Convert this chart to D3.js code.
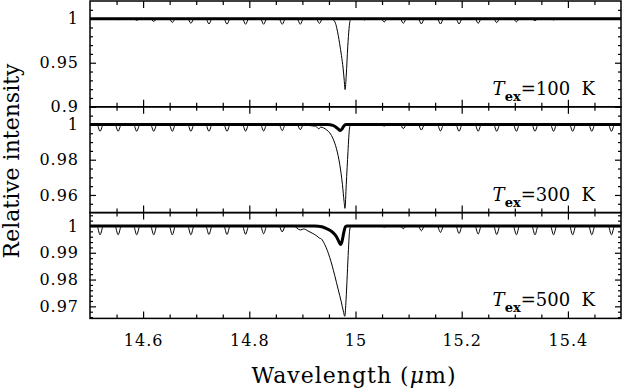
<!DOCTYPE html>
<html>
<head>
<meta charset="utf-8">
<script src="https://cdn.jsdelivr.net/npm/d3@7"></script>
<style>
  body { margin: 0; background: #fff; }
  svg { display: block; font-family: "DejaVu Serif", serif; }
</style>
</head>
<body>
<svg id="chart" width="623" height="390"></svg>
<script>
// ── DATA ─────────────────────────────────────────────────────────────────────
const temps = [100, 300, 500];

const yDomains = [[0.9, 1.02], [0.95, 1.01], [0.9655, 1.005]];
const yMajorTicks = [[0.9, 0.95, 1], [0.96, 0.98, 1], [0.97, 0.98, 0.99, 1]];
const yMinorTicks = [
  [0.91, 0.92, 0.93, 0.94, 0.96, 0.97, 0.98, 0.99, 1.01],
  [0.955, 0.965, 0.97, 0.975, 0.985, 0.99, 0.995, 1.005],
  [0.966, 0.968, 0.972, 0.974, 0.976, 0.978, 0.982, 0.984, 0.986, 0.988,
   0.992, 0.994, 0.996, 0.998, 1.002, 1.004]
];

const xMajorTicks = [14.6, 14.8, 15, 15.2, 15.4];
const xMinorTicks = [14.55, 14.65, 14.7, 14.75, 14.85, 14.9, 14.95, 15.05,
  15.1, 15.15, 15.25, 15.3, 15.35, 15.45];

// R and P branch line centres (µm)
const lineCenters = [14.519, 14.553, 14.588, 14.620, 14.655, 14.690, 14.724,
  14.758, 14.793, 14.827, 14.862, 14.896, 14.932,
  15.017, 15.054, 15.090, 15.124, 15.160, 15.195, 15.231, 15.266, 15.303,
  15.338, 15.373, 15.409, 15.445, 15.482];

// line depths below 1 for each temperature
const depth100 = [0.0007, 0.0012, 0.0018, 0.0032, 0.0043, 0.0053, 0.0060,
  0.0062, 0.0064, 0.0064, 0.0064, 0.0064, 0.0055,
  0.0015, 0.0038, 0.0053, 0.0060, 0.0061, 0.0060, 0.0053, 0.0045, 0.0036,
  0.0023, 0.0015, 0.0008, 0.0004, 0.0003];
const depth300 = [0.0039, 0.0039, 0.0039, 0.0039, 0.0039, 0.0039, 0.0039,
  0.0039, 0.0038, 0.0037, 0.0035, 0.0030, 0.0023,
  0.0002, 0.0009, 0.0024, 0.0032, 0.0037, 0.0039, 0.0039, 0.0039, 0.0039,
  0.0039, 0.0039, 0.0039, 0.0039, 0.0039];
const depth500 = [0.0033, 0.0033, 0.0033, 0.0033, 0.0033, 0.0033, 0.0032,
  0.0032, 0.0031, 0.0029, 0.0022, 0.0015, 0.0012,
  0.0001, 0.0004, 0.0010, 0.0018, 0.0024, 0.0028, 0.0030, 0.0032, 0.0033,
  0.0033, 0.0033, 0.0033, 0.0033, 0.0033];

// Q-branch region of the thin spectrum [wavelength, intensity]
const qThin100 = [[14.950, 1], [14.957, 0.999], [14.9615, 0.996], [14.9645, 0.990],
  [14.9675, 0.981], [14.970, 0.972], [14.9736, 0.958], [14.9766, 0.944],
  [14.9788, 0.930], [14.9803, 0.9195], [14.9826, 0.936], [14.9854, 0.968],
  [14.9879, 0.989], [14.990, 0.998], [14.993, 1]];
const qThin300 = [[14.905, 1], [14.915, 0.9993], [14.925, 0.999], [14.931, 0.9975],
  [14.9345, 0.9985], [14.940, 0.998], [14.946, 0.9968], [14.9516, 0.9952],
  [14.9578, 0.9918], [14.9642, 0.9862], [14.9704, 0.9772], [14.9754, 0.9659],
  [14.9785, 0.9563], [14.9802, 0.9524], [14.9826, 0.9659], [14.9858, 0.9845],
  [14.9888, 0.998], [14.991, 1]];
const qThin500 = [[14.870, 1], [14.8829, 1], [14.8964, 0.9985], [14.9026, 0.9989],
  [14.9101, 0.9982], [14.9196, 0.9972], [14.9271, 0.9963], [14.9318, 0.9955],
  [14.9356, 0.9952], [14.9421, 0.9931], [14.9516, 0.9882], [14.9609, 0.9815],
  [14.9675, 0.9762], [14.9732, 0.9717], [14.977, 0.9683], [14.9798, 0.9663],
  [14.9822, 0.9724], [14.9845, 0.9818], [14.9867, 0.9912], [14.9888, 0.998],
  [14.991, 1]];

// thick (second model) spectrum
const thick100 = [[14.5, 1], [15.5, 1]];
const thick300 = [[14.5, 1], [14.9478, 1], [14.9572, 0.9995], [14.9628, 0.9986],
  [14.9675, 0.9974], [14.9713, 0.9966], [14.9741, 0.9972], [14.977, 0.9986],
  [14.9798, 0.9997], [14.9826, 1], [15.5, 1]];
const thick500 = [[14.5, 1], [14.9233, 1], [14.9365, 0.9997], [14.9453, 0.999],
  [14.9516, 0.9984], [14.9578, 0.9975], [14.9642, 0.996], [14.9691, 0.994],
  [14.9717, 0.9931], [14.9747, 0.9943], [14.9779, 0.9975], [14.9811, 0.9997],
  [14.9841, 1], [15.5, 1]];

const depths = [depth100, depth300, depth500];
const qThins = [qThin100, qThin300, qThin500];
const thicks = [thick100, thick300, thick500];

// ── LAYOUT ───────────────────────────────────────────────────────────────────
const left = 90, right = 621;
const panelTop = [1, 106.8, 212.6];
const panelH = 105.8;
const halfWidth = 0.006;

const svg = d3.select('#chart');

const x = d3.scaleLinear().domain([14.5, 15.5]).range([left, right]);

svg.append('defs').append('clipPath')
  .attr('id', 'plot-clip')
  .append('rect')
    .attr('x', left).attr('y', panelTop[0])
    .attr('width', right - left).attr('height', panelH * 3);

// build thin spectrum: V-shaped lines plus the Q-branch profile
function thinSeries(i) {
  const q = qThins[i];
  const q0 = q[0][0], q1 = q[q.length - 1][0];
  const pts = [[14.5, 1]];
  lineCenters.forEach((c, k) => {
    if (c >= q0 && c <= q1) return;
    pts.push([c - halfWidth, 1], [c, 1 - depths[i][k]], [c + halfWidth, 1]);
  });
  q.forEach(p => pts.push(p));
  pts.push([15.5, 1]);
  return pts.sort((a, b) => a[0] - b[0]);
}

temps.forEach((t, i) => {
  const top = panelTop[i];
  const bottom = top + panelH;
  const y = d3.scaleLinear().domain(yDomains[i]).range([bottom, top]);
  const g = svg.append('g');

  const line = d3.line()
    .x(d => x(d[0]))
    .y(d => y(d[1]))
    .curve(d3.curveMonotoneX);

  const plot = g.append('g').attr('clip-path', 'url(#plot-clip)');

  plot.append('path')
    .datum(thinSeries(i))
    .attr('fill', 'none')
    .attr('stroke', '#000')
    .attr('stroke-width', 1)
    .attr('d', line);

  plot.append('path')
    .datum(thicks[i])
    .attr('fill', 'none')
    .attr('stroke', '#000')
    .attr('stroke-width', 3)
    .attr('d', line);

  // ── AXES (ticks point inward) ────────────────────────────────────────────
  g.append('g').attr('transform', `translate(${left},0)`)
    .call(d3.axisLeft(y).tickValues(yMajorTicks[i]).tickSize(-6)
      .tickSizeOuter(0).tickPadding(11).tickFormat(d3.format('')));
  g.append('g').attr('transform', `translate(${left},0)`)
    .call(d3.axisLeft(y).tickValues(yMinorTicks[i]).tickSize(-3)
      .tickSizeOuter(0).tickFormat(''));
  g.append('g').attr('transform', `translate(${right},0)`)
    .call(d3.axisRight(y).tickValues(yMajorTicks[i]).tickSize(-6)
      .tickSizeOuter(0).tickFormat(''));
  g.append('g').attr('transform', `translate(${right},0)`)
    .call(d3.axisRight(y).tickValues(yMinorTicks[i]).tickSize(-3)
      .tickSizeOuter(0).tickFormat(''));

  g.append('g').attr('transform', `translate(0,${top})`)
    .call(d3.axisTop(x).tickValues(xMajorTicks).tickSize(-7)
      .tickSizeOuter(0).tickFormat(''));
  g.append('g').attr('transform', `translate(0,${top})`)
    .call(d3.axisTop(x).tickValues(xMinorTicks).tickSize(-4)
      .tickSizeOuter(0).tickFormat(''));
  g.append('g').attr('transform', `translate(0,${bottom})`)
    .call(d3.axisBottom(x).tickValues(xMajorTicks).tickSize(-7)
      .tickSizeOuter(0).tickPadding(16)
      .tickFormat(i === temps.length - 1 ? d3.format('') : ''));
  g.append('g').attr('transform', `translate(0,${bottom})`)
    .call(d3.axisBottom(x).tickValues(xMinorTicks).tickSize(-4)
      .tickSizeOuter(0).tickFormat(''));

  g.selectAll('.domain').remove();
  g.selectAll('.tick line').attr('stroke', '#000').attr('stroke-width', 1.2);
  g.selectAll('.tick text')
    .attr('font-family', '"DejaVu Serif", serif')
    .attr('font-size', 16)
    .attr('letter-spacing', 1)
    .attr('fill', '#000');

  // frame
  g.append('rect')
    .attr('x', left).attr('y', top)
    .attr('width', right - left).attr('height', panelH)
    .attr('fill', 'none')
    .attr('stroke', '#000')
    .attr('stroke-width', 1.5);

  // temperature label
  const lab = g.append('text')
    .attr('x', 595)
    .attr('y', bottom - 12)
    .attr('text-anchor', 'end')
    .attr('font-size', 18);
  lab.append('tspan').attr('font-style', 'italic').text('T');
  lab.append('tspan').attr('font-weight', 'bold').attr('font-size', 13)
    .attr('dy', 6).text('ex');
  lab.append('tspan').attr('dy', -6).text(`=${t}\u00a0\u00a0K`);
});

// ── AXIS TITLES ──────────────────────────────────────────────────────────────
const xt = svg.append('text')
  .attr('x', 354)
  .attr('y', 383)
  .attr('text-anchor', 'middle')
  .attr('font-size', 22)
  .attr('letter-spacing', 1);
xt.append('tspan').text('Wavelength (');
xt.append('tspan').attr('font-style', 'italic').text('\u03bc');
xt.append('tspan').text('m)');

svg.append('text')
  .attr('transform', 'translate(19,161) rotate(-90)')
  .attr('text-anchor', 'middle')
  .attr('font-size', 22)
  .text('Relative intensity');
</script>
</body>
</html>
